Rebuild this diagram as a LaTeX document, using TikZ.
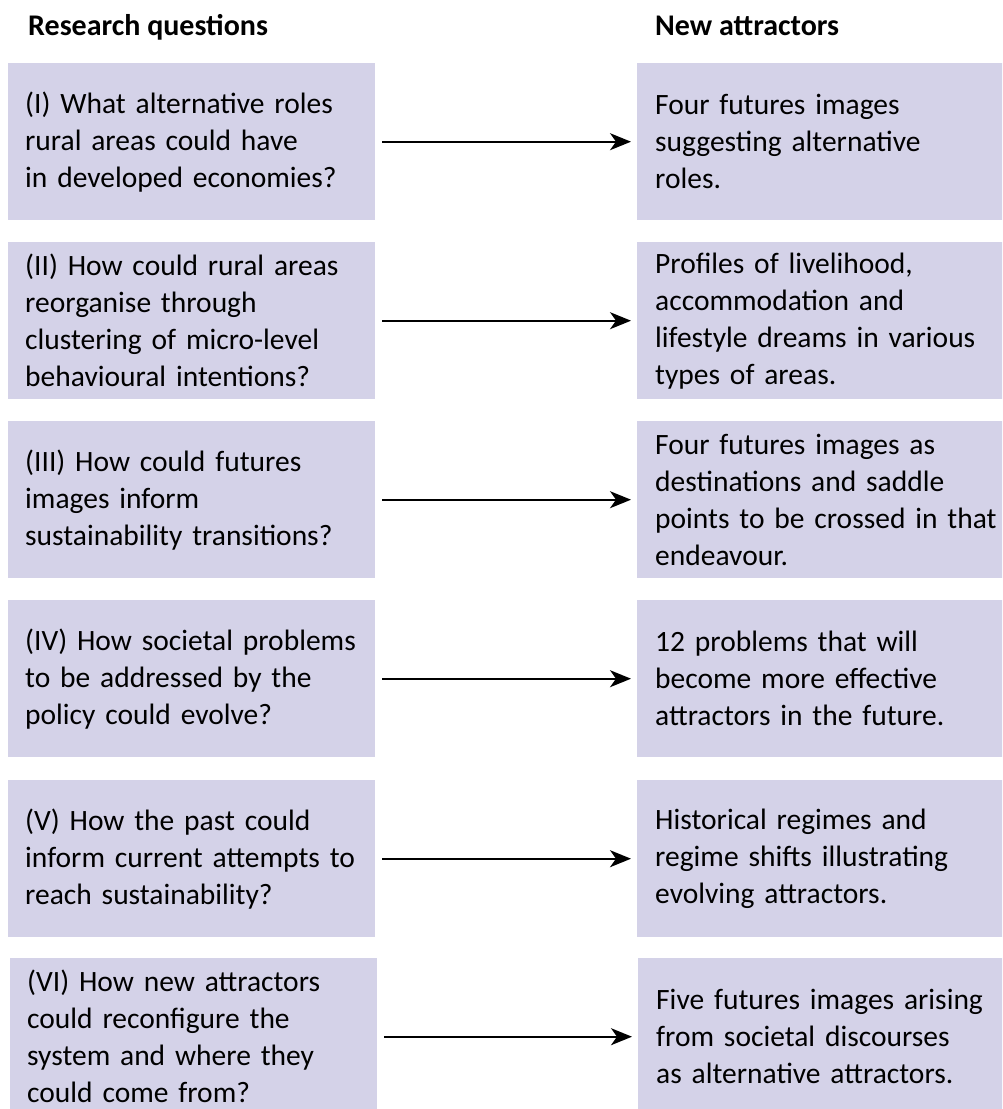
\documentclass[tikz,border=0pt]{standalone}
\usepackage{fontspec}
\setmainfont{Carlito}
\usetikzlibrary{arrows.meta}
\definecolor{boxfill}{RGB}{212,210,232}
\begin{document}
\begin{tikzpicture}[x=1pt,y=-1pt,
  panel/.style={fill=boxfill, draw=none, minimum width=367pt, minimum height=157pt,
    text width=333pt, inner xsep=17pt, inner ysep=0pt, align=left,
    font=\fontsize{29.5}{37}\selectfont, anchor=north west},
  widepanel/.style={panel, text width=352pt, inner xsep=18pt},
  head/.style={font=\bfseries\fontsize{30}{34}\selectfont, anchor=base west, inner sep=0pt},
  link/.style={line width=1.8pt, -{Stealth[length=21pt,width=17pt,inset=6pt]}}]
\useasboundingbox (0,0) rectangle (1002,1109);
\clip (0,0) rectangle (1002,1109);

% column headings
\node[head] (hq) at (28,35) {Research questions};
\node[head] (ha) at (655,35) {New attractors};

% research questions
\node[panel] (q1) at (8,63)  {(I) What alternative roles\\rural areas could have\\in developed economies?};
\node[panel] (q2) at (8,242) {(II) How could rural areas\\reorganise through\\clustering of micro-level\\behavioural intentions?};
\node[panel] (q3) at (8,421) {(III) How could futures\\images inform\\sustainability transitions?};
\node[panel] (q4) at (8,600) {(IV) How societal problems\\to be addressed by the\\policy could evolve?};
\node[panel] (q5) at (8,780) {(V) How the past could\\inform current attempts to\\reach sustainability?};
\node[panel] (q6) at (10,958) {(VI) How new attractors\\could reconfigure the\\system and where they\\could come from?};

% new attractors (running off the right edge)
\node[widepanel] (a1) at (637,63)  {Four futures images\\suggesting alternative\\roles.};
\node[widepanel] (a2) at (637,242) {Profiles of livelihood,\\accommodation and\\lifestyle dreams in various\\types of areas.};
\node[widepanel] (a3) at (637,421) {Four futures images as\\destinations and saddle\\points to be crossed in that\\endeavour.};
\node[widepanel] (a4) at (637,600) {12 problems that will\\become more effective\\attractors in the future.};
\node[widepanel] (a5) at (637,780) {Historical regimes and\\regime shifts illustrating\\evolving attractors.};
\node[widepanel] (a6) at (638,958) {Five futures images arising\\from societal discourses\\as alternative attractors.};

% connectors
\foreach \i in {1,...,6}
  \draw[link] ([xshift=7pt]q\i.east) -- ([xshift=-6pt]a\i.west);
\end{tikzpicture}
\end{document}
